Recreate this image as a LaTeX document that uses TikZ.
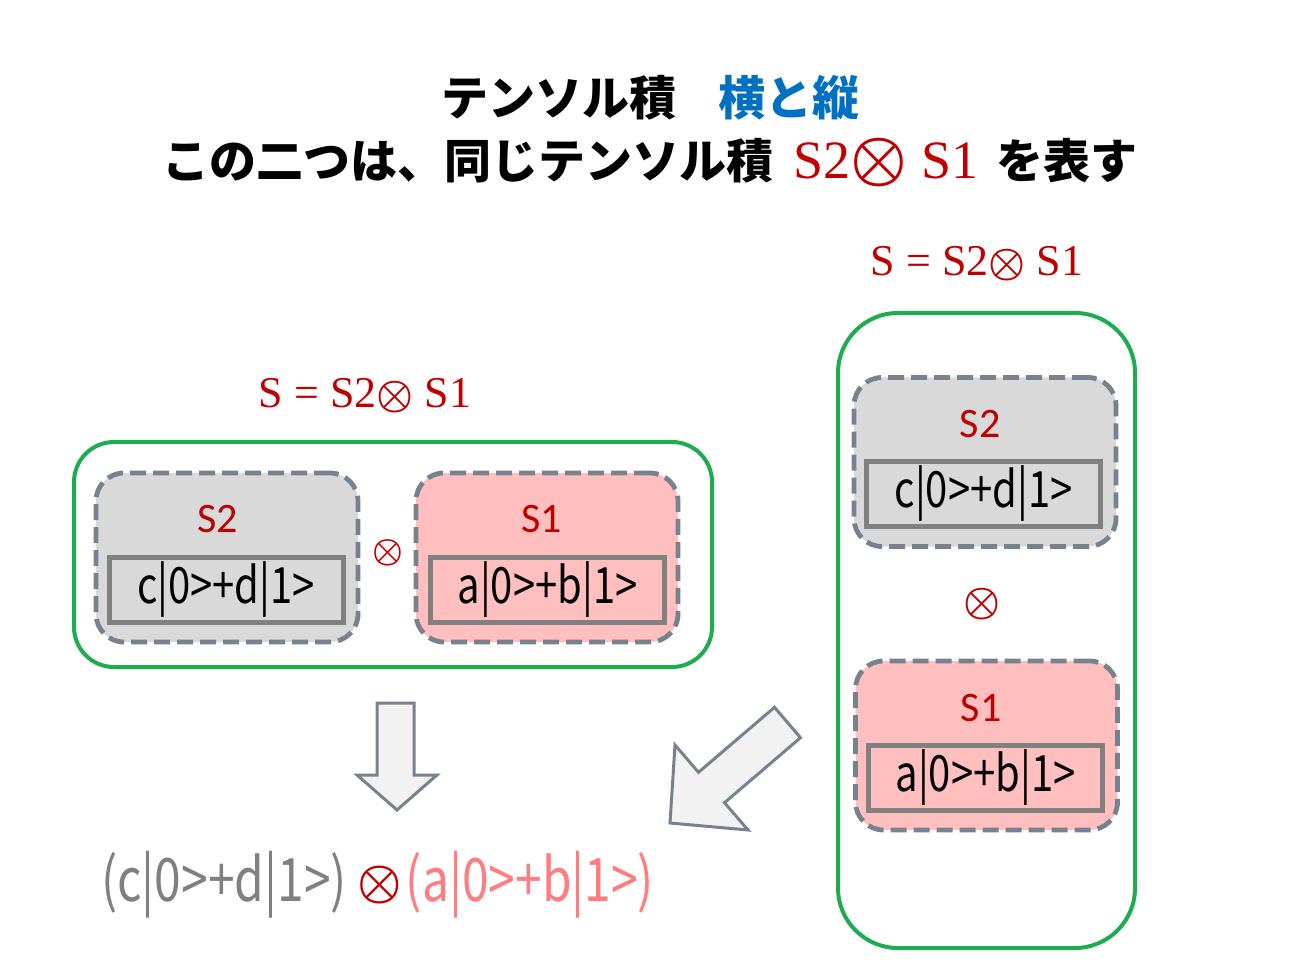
\documentclass[tikz,border=0pt]{standalone}
\usepackage{amsmath}
\usepackage{fontspec}
\setmainfont{Noto Sans CJK JP}
\newfontfamily\ketfont[FakeStretch=0.8]{Noto Sans CJK JP}
\newfontfamily\labfont{Carlito}
\newfontfamily\eqfont{Liberation Serif}
\definecolor{grn}{RGB}{30,172,80}
\definecolor{slate}{RGB}{120,130,142}
\definecolor{lgray}{RGB}{217,217,217}
\definecolor{spink}{RGB}{255,191,191}
\definecolor{dred}{RGB}{192,0,0}
\definecolor{tblue}{RGB}{0,112,192}
\definecolor{vgray}{RGB}{128,128,128}
\definecolor{salmon}{RGB}{255,124,128}
\definecolor{afill}{RGB}{242,242,242}
\newcommand{\ox}[1][1]{\scalebox{#1}{$\boldsymbol{\otimes}$}}
\begin{document}
\begin{tikzpicture}[x=0.5pt,y=-0.5pt,
  grp/.style={draw=grn, line width=2pt, rounded corners=20pt},
  qbit/.style={draw=slate, line width=2.4pt, dash pattern=on 8pt off 3.5pt, rounded corners=14pt, minimum width=131pt, minimum height=84.5pt},
  vec/.style={draw=vgray, line width=2.5pt, minimum width=117pt, minimum height=32.5pt, inner sep=0pt, font=\ketfont\fontsize{25}{25}\selectfont},
  lab/.style={text=dred, font=\labfont\fontsize{21}{21}\selectfont},
  eq/.style={text=dred, font=\eqfont\fontsize{22}{22}\selectfont},
  blk/.style={draw=slate, fill=afill, line width=1.5pt, line join=miter}]
\useasboundingbox (0,0) rectangle (1310,972);
\node[font=\bfseries\fontsize{23.5}{23.5}\selectfont] (title) at (650,98) {テンソル積\hspace{21pt}\textcolor{tblue}{横と縦}};
\node[font=\bfseries\fontsize{23.5}{23.5}\selectfont] (subtitle) at (650,163) {この二つは、同じテンソル積\hspace{10pt}{\eqfont\mdseries\fontsize{27}{27}\selectfont\color{dred}S2\ox[1.28]\ S1}\hspace{9pt}を表す};
\node[eq] (leq) at (365,396) {S = S2\ox\ S1};
\node[grp, minimum width=319pt, minimum height=112.5pt] (lgrp) at (393,554.5) {};
\node[qbit, fill=lgray] (ls2) at (227,557.5) {};
\node[lab] (ls2lab) at (218,519) {S2};
\node[vec, fill=lgray] (ls2vec) at (226,589.5) {c|0>+d|1>};
\node[text=dred, font=\fontsize{18}{18}\selectfont] (lox) at (388,553) {\ox};
\node[qbit, fill=spink] (ls1) at (547,557.5) {};
\node[lab] (ls1lab) at (542,519) {S1};
\node[vec, fill=spink] (ls1vec) at (547.5,589.5) {a|0>+b|1>};
\node[eq] (req) at (977,264) {S = S2\ox\ S1};
\node[grp, rounded corners=30pt, minimum width=148.5pt, minimum height=317.5pt] (rgrp) at (986.5,630.5) {};
\node[qbit, fill=lgray] (rs2) at (985,462) {};
\node[lab] (rs2lab) at (980,424) {S2};
\node[vec, fill=lgray] (rs2vec) at (983.5,494) {c|0>+d|1>};
\node[text=dred, font=\fontsize{22}{22}\selectfont] (rox) at (982,604) {\ox};
\node[qbit, fill=spink] (rs1) at (986.5,745.5) {};
\node[lab] (rs1lab) at (981,708) {S1};
\node[vec, fill=spink] (rs1vec) at (985.5,777.5) {a|0>+b|1>};
\draw[blk] (377,703) -- (414,703) -- (414,775) -- (437,775) -- (397,810) -- (357,775) -- (377,775) -- cycle;
\draw[blk] (774.5,707.3) -- (698.5,772.3) -- (675,745) -- (670,823) -- (748,830) -- (724.5,802.7) -- (800.5,737.7) -- cycle;
\node[text=vgray, font=\ketfont\fontsize{30}{30}\selectfont] (lket) at (224,885) {(c|0>+d|1>)};
\node[text=dred, font=\fontsize{24.88}{25}\selectfont] (prodx) at (380,885) {\ox};
\node[text=salmon, font=\ketfont\fontsize{30}{30}\selectfont] (rket) at (530,885) {(a|0>+b|1>)};
\end{tikzpicture}
\end{document}
